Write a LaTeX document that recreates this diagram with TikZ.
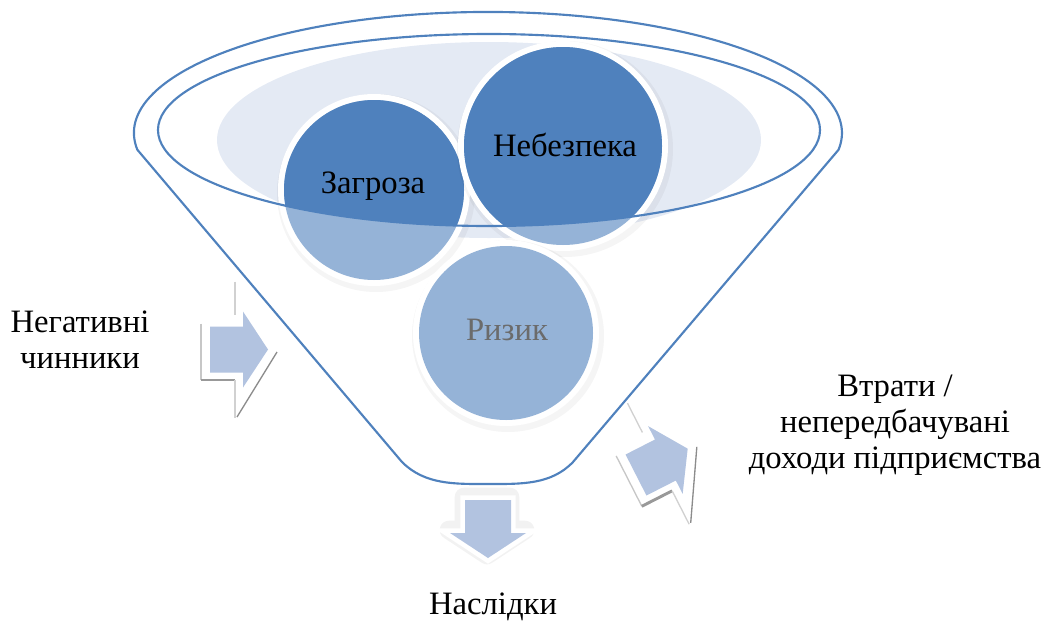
\documentclass[tikz,border=0pt]{standalone}
\usepackage{fontspec}
\setmainfont{Liberation Serif}
\usetikzlibrary{positioning}
\definecolor{funnelblue}{HTML}{4F81BD}
\definecolor{bubblelight}{HTML}{95B3D7}
\definecolor{bowlfill}{HTML}{E4EAF4}
\definecolor{arrowfill}{HTML}{B2C3E0}
\definecolor{risktext}{HTML}{6B6B6B}
\tikzset{
  label text/.style={font=\fontsize{24.5}{27}\selectfont, align=center},
  funnel line/.style={draw=funnelblue, line width=1.6pt},
  arrow body/.style={fill=arrowfill, preaction={draw=white, line width=7pt, line join=miter}},
  arrow edge/.style={draw=black!30, line width=1pt},
}
\newcommand{\blockarrow}[2]{%
  \begin{scope}[shift={(#1)}, rotate=#2]
    \path[arrow body] (0,-23) -- (33,-23) -- (33,-38) -- (58,0) -- (33,38) -- (33,23) -- (0,23) -- cycle;
  \end{scope}}
\newcommand{\arrowedges}[2]{%
  \begin{scope}[shift={(#1)}, rotate=#2]
    \draw[arrow edge, black!22] (-9,-26) -- (-9,30.5);
    \draw[arrow edge, black!40, line width=2.2pt] (-9,30.5) -- (25,30.5);
    \draw[arrow edge, black!18] (25,30.5) -- (25,68);
    \draw[arrow edge, black!18] (25,-68) -- (25,-35);
    \draw[arrow edge, black!45] (67,2.5) -- (27,67.5);
  \end{scope}}

\begin{document}
\begin{tikzpicture}[x=0.75pt, y=-0.75pt]
  \useasboundingbox (0,0) rectangle (1045,621);
  % bowl of the funnel
  \fill[bowlfill] (489,140) ellipse[x radius=272, y radius=98];
  \draw[funnel line] (402,462) -- (137.4,149.8)
    arc[start angle=172, end angle=368, x radius=354, y radius=121]
    -- (573,462) .. controls (551,485) and (521,484) .. (488,484)
    .. controls (455,484) and (425,485) .. (402,462);
  % circles
  \foreach \cx/\cy/\r in {374/190/90, 563/146/99, 506/333/87} {
    \fill[black, opacity=0.04] (\cx+2,\cy+3) circle[radius=\r+9];
    \fill[bubblelight, preaction={draw=white, line width=9pt}] (\cx,\cy) circle[radius=\r];
    \begin{scope}
      \clip (489,130) ellipse[x radius=331, y radius=96];
      \fill[funnelblue] (\cx,\cy) circle[radius=\r];
    \end{scope}
  }
  \draw[funnel line] (489,130) ellipse[x radius=331, y radius=96];
  \node[label text] (zagroza) at (373,186) {Загроза};
  \node[label text] (nebezpeka) at (565,145) {Небезпека};
  \node[label text, text=risktext] (ryzyk) at (507,330) {Ризик};
  % arrows
  \arrowedges{210,349.5}{0}
  \blockarrow{210,349.5}{0}
  \arrowedges{636,475}{27}
  \blockarrow{636,475}{27}
  \begin{scope}[shift={(488,500)}, rotate=-90]
    \path[draw=black, opacity=0.05, line width=14pt, line join=round, shift={(-3,1)}]
      (0,-23) -- (33,-23) -- (33,-38) -- (58,0) -- (33,38) -- (33,23) -- (0,23) -- cycle;
  \end{scope}
  \blockarrow{488,500}{-90}
  % texts
  \node[label text] (chynnyky) at (80,340) {Негативні\\чинники};
  \node[label text] (vtraty) at (895,425) {Втрати /\\непередбачувані\\доходи підприємства};
  \node[label text] (naslidky) at (493,607) {Наслідки};
\end{tikzpicture}
\end{document}
